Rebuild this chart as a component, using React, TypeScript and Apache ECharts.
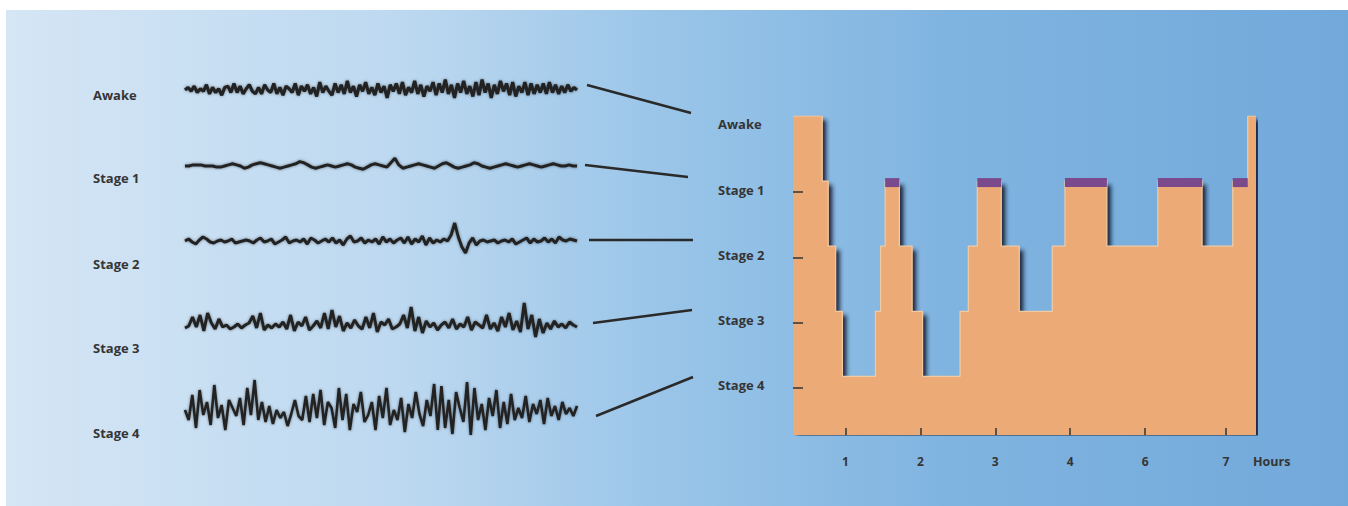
import React, { useEffect, useRef } from 'react';
import * as echarts from 'echarts';

// ---- Left panel: EEG traces (values in px-like amplitude units, up = positive)
const waveLabels = ['Awake', 'Stage 1', 'Stage 2', 'Stage 3', 'Stage 4'];

const awakeWave = [0, 2, -1, 3, -2, 1, -1, 4, -3, 2, -2, 1, -4, 2, 3, -2, 5, -2, 3, -3, 1, 4, -1, -3, 2, -3, 4, 0, -2, 5, -3, 2, -4, 3, 1, -2, 5, -4, 3, -1, 4, -3, 2, -5, 6, -2, 3, -1, -4, 5, -2, 4, -3, 7, -2, 3, -5, 4, -1, 6, -3, 2, -4, 5, -2, 3, -6, 4, -1, 5, -3, 6, -4, 2, -2, 7, -3, 4, -5, 3, -1, 6, -4, 5, -2, 8, -3, 4, -6, 5, -2, 7, -3, 3, -5, 6, -4, 8, -2, 5, -6, 4, -3, 7, -1, 5, -4, 6, -5, 3, -2, 6, -4, 5, -3, 4, -2, 5, -3, 6, -2, 4, -3, 3, -2, 4, -1, 2, 0];

const stage1Wave = [0, 0, 1, 1, 1, 0, 0, 0, -1, -1, 0, 1, 2, 1, 0, -2, -1, 1, 2, 3, 2, 1, 0, -1, -2, -1, 0, 1, 2, 4, 3, 1, -1, -2, -1, 0, 1, 0, -1, 0, 1, 2, 1, -1, -2, -3, -1, 1, 2, 1, 0, -1, 3, 7, 1, -2, -1, 0, 1, 2, 1, 0, -1, -2, 0, 2, 3, 1, -1, -2, -1, 0, 1, 3, 2, 0, -1, -2, -1, 0, 1, 2, 1, 0, -1, 0, 1, 2, 1, 0, -1, 0, 1, 2, 1, 0, 0, 1, 0, 0];

const stage2Wave = [0, 2, -1, -3, 1, 4, 2, -1, -2, 0, 1, -1, 0, 2, -2, -1, 0, 1, 0, -2, 1, 3, -1, 0, 2, -3, -1, 1, 4, -2, 0, 1, -1, 2, -3, 3, 1, -2, 0, 2, -1, 3, -2, 1, -4, 2, 5, -1, 0, 3, -2, 1, -1, 2, -3, 4, -1, 2, -2, 1, 3, -2, 4, -3, 2, -1, 5, -4, 3, -2, 1, -1, 2, 0, 6, 18, 4, -6, -12, -2, 3, -4, 0, 1, -1, 0, 1, -2, 0, 1, -1, 2, -3, -1, 1, 3, -2, 2, -1, 0, 3, -1, 2, -2, 4, 1, 0, 2, 1, 0];

const stage3Wave = [-3, -1, 8, -2, 10, -6, 12, 2, -4, 6, -2, 0, -4, -2, 1, -3, 0, 2, 9, -3, 12, -5, 0, -3, 1, -2, 3, -4, 10, -6, 3, -1, 8, -5, -1, 4, -3, 12, -4, 15, -2, 9, -6, 2, -3, 5, -1, -4, 8, -3, 12, -7, 3, 0, 6, -4, -2, 1, 10, -3, 18, -6, 8, -8, 4, -2, 2, -5, 0, 3, -3, 6, -4, 1, -2, 8, -5, 3, 0, -3, 10, -4, 2, -6, 8, -2, 12, -5, 4, -7, 22, -4, 10, -12, 6, -8, 2, -4, 4, -2, 1, -3, 3, 0, -2];

const stage4Wave = [0, -10, 15, -18, 20, -5, 8, -15, 25, -8, 5, -20, 10, 2, -6, 12, -15, 22, -5, 30, -10, 8, -12, 4, -14, 0, -8, -2, -16, -4, 10, -6, -10, 14, -12, 16, -8, 20, -15, 8, 2, -18, 22, -10, 16, -20, 6, -2, 18, -12, -5, 8, -20, 14, -8, 22, -15, 0, -10, 12, -22, 6, -8, 18, -4, -16, 10, -6, 26, -20, 24, -18, 10, -24, 18, 2, -12, 28, -25, 22, -10, 6, -20, 12, -6, 20, -18, 8, -14, 16, -10, 2, -8, 14, -12, 6, -4, 10, -14, 12, -6, 4, -10, 8, -4, 2, -6, 4];

const waves = [awakeWave, stage1Wave, stage2Wave, stage3Wave, stage4Wave];

// ---- Right panel: hypnogram
const stageNames = ['Stage 4', 'Stage 3', 'Stage 2', 'Stage 1', 'Awake']; // value 0..4
const tickedStages = [0, 1, 2, 3];
const hypTimes = [0.30, 0.69, 0.77, 0.87, 0.96, 1.40, 1.47, 1.53, 1.72, 1.89, 2.03, 2.53, 2.64, 2.76, 3.08, 3.32, 3.76, 3.93, 4.49, 5.17, 5.76, 6.17, 6.37, 6.48];
const hypStages = [4, 3, 2, 1, 0, 1, 2, 3, 2, 1, 0, 1, 2, 3, 2, 1, 2, 3, 2, 3, 2, 3, 4, 4];
const remStart = [1.53, 2.76, 3.93, 5.17, 6.17];
const remEnd = [1.72, 3.08, 4.49, 5.76, 6.37];
const hourTicks = [1, 2, 3, 4, 5, 6.08];
const hourLabels = ['1', '2', '3', '4', '6', '7'];

// layout / style constants
const FONT = "'Open Sans', 'Noto Sans', sans-serif";
const TEXT = '#353535';
const waveCenters = [90, 166, 241, 325, 410];
const waveHalf = [20, 20, 28, 35, 45];
const waveScale = [1.3, 1.1, 1, 1, 1];
const waveWidth = [3.2, 3, 3, 3, 2.6];
const labelY = [95, 178, 264, 348, 433];
const connectors = [
  [587, 85, 691, 113],
  [585, 165, 688, 177],
  [589, 240, 693, 240],
  [593, 323, 692, 310],
  [596, 416, 693, 377],
];
const TICK_SHIFT = 0.17;
const LABEL_SHIFT = 0.13;

export default function App() {
  const ref = useRef<HTMLDivElement>(null);
  useEffect(() => {
    if (!ref.current) return;
    const chart = echarts.init(ref.current, null, { renderer: 'svg' });

    const grids: any[] = [];
    const xAxes: any[] = [];
    const yAxes: any[] = [];
    const series: any[] = [];

    waves.forEach((w, i) => {
      const h = waveHalf[i] / waveScale[i];
      grids.push({ left: 185, width: 392, top: waveCenters[i] - waveHalf[i], height: waveHalf[i] * 2 });
      xAxes.push({ type: 'category', gridIndex: i, show: false, boundaryGap: false, data: w.map((_, k) => k) });
      yAxes.push({ type: 'value', gridIndex: i, show: false, min: -h, max: h });
      series.push({
        type: 'line', xAxisIndex: i, yAxisIndex: i, data: w, symbol: 'none', silent: true,
        lineStyle: { color: '#222222', width: waveWidth[i], shadowColor: 'rgba(0,0,0,0.45)', shadowBlur: 3 },
      });
    });

    const hi = waves.length;
    grids.push({ left: 793, top: 116, width: 463, height: 319 });
    xAxes.push({
      type: 'value', gridIndex: hi, min: 0.3, max: 6.48, z: 10,
      splitLine: { show: false }, axisLine: { show: false, onZero: false },
      axisTick: { show: true, inside: true, length: 7, customValues: hourTicks, lineStyle: { color: '#333', width: 1.5 } },
      axisLabel: {
        customValues: hourTicks, margin: 20, color: TEXT, fontWeight: 'bold', fontSize: 12, fontFamily: FONT,
        formatter: (v: number) => {
          let best = 0;
          hourTicks.forEach((t, k) => { if (Math.abs(t - v) < Math.abs(hourTicks[best] - v)) best = k; });
          return hourLabels[best];
        },
      },
      name: 'Hours', nameLocation: 'end', nameGap: -3,
      nameTextStyle: { color: TEXT, fontWeight: 'bold', fontSize: 12.5, fontFamily: FONT, verticalAlign: 'top', padding: [20, 0, 0, 0] },
    });
    yAxes.push({
      type: 'value', gridIndex: hi, min: -0.9, max: 4, z: 10,
      splitLine: { show: false }, axisLine: { show: false, onZero: false },
      axisTick: { show: true, inside: true, length: 10, customValues: tickedStages.map((s) => s - TICK_SHIFT), lineStyle: { color: '#333', width: 1.5 } },
      axisLabel: {
        customValues: stageNames.map((_, s) => s - LABEL_SHIFT), align: 'left', margin: 75,
        color: TEXT, fontWeight: 'bold', fontSize: 13, fontFamily: FONT,
        formatter: (v: number) => stageNames[Math.round(v + LABEL_SHIFT)],
      },
    });
    series.push({
      type: 'line', xAxisIndex: hi, yAxisIndex: hi, step: 'end', symbol: 'none', silent: true,
      data: hypTimes.map((t, k) => [t, hypStages[k]]),
      lineStyle: { color: '#f3cba3', width: 1.2 },
      areaStyle: {
        color: '#ecab76', opacity: 1, origin: 'start',
        shadowColor: 'rgba(20,28,50,0.95)', shadowBlur: 4, shadowOffsetX: 4, shadowOffsetY: 4,
      },
      z: 2,
    });
    series.push({
      type: 'custom', xAxisIndex: hi, yAxisIndex: hi, silent: true, z: 3,
      data: remStart.map((s, k) => [s, remEnd[k], 3]),
      renderItem: (_p: any, api: any) => {
        const a = api.coord([api.value(0), api.value(2)]);
        const b = api.coord([api.value(1), api.value(2)]);
        return { type: 'rect', shape: { x: a[0], y: a[1] - 3, width: b[0] - a[0], height: 9 }, style: { fill: '#7a4a8c' } };
      },
    });

    const graphic: any[] = [
      {
        type: 'rect', z: -10, silent: true,
        shape: { x: 6, y: 10, width: 1342, height: 496 },
        style: {
          fill: new echarts.graphic.LinearGradient(0, 0, 1, 0, [
            { offset: 0, color: '#d5e6f5' },
            { offset: 0.3, color: '#bcd8f0' },
            { offset: 0.5, color: '#98c4e8' },
            { offset: 0.7, color: '#80b4e0' },
            { offset: 1, color: '#72a9db' },
          ]),
        },
      },
    ];
    waveLabels.forEach((t, i) => {
      graphic.push({
        type: 'text', x: 93, y: labelY[i], silent: true,
        style: { text: t, fill: TEXT, font: `bold 13px ${FONT}`, textVerticalAlign: 'middle', textAlign: 'left' },
      });
    });
    connectors.forEach((c) => {
      graphic.push({
        type: 'line', silent: true,
        shape: { x1: c[0], y1: c[1], x2: c[2], y2: c[3] },
        style: { stroke: '#2a2a2a', lineWidth: 2.5 },
      });
    });

    chart.setOption({
      animation: false,
      grid: grids,
      xAxis: xAxes,
      yAxis: yAxes,
      series,
      graphic,
    });
    return () => chart.dispose();
  }, []);
  return <div ref={ref} style={{ position: 'absolute', left: 0, top: 0, width: 1348, height: 506 }} />;
}
